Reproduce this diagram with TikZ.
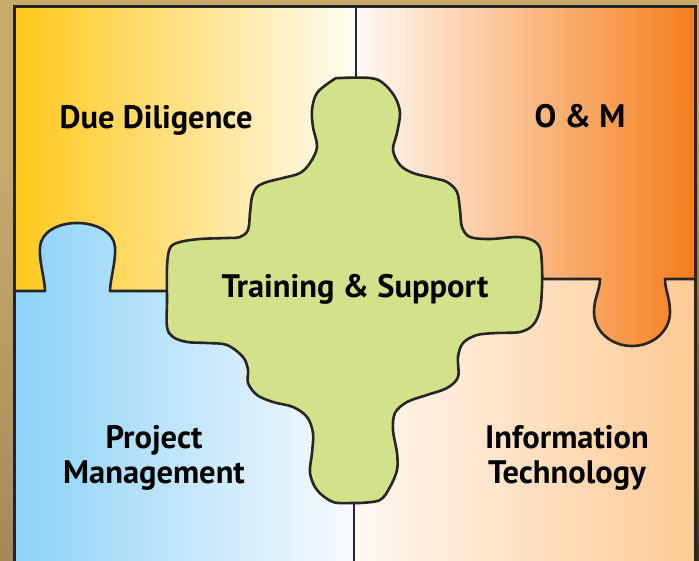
\documentclass[tikz,border=0pt]{standalone}
\usepackage{fontspec}
\setmainfont{PT Sans}
\definecolor{tanbg}{HTML}{C9AB6E}
\definecolor{tandark}{HTML}{A58A58}
\definecolor{edgedark}{HTML}{3A3020}
\definecolor{yellowL}{HTML}{FFC81C}
\definecolor{yellowR}{HTML}{FFFCF4}
\definecolor{orangeL}{HTML}{FFFAF6}
\definecolor{orangeR}{HTML}{F47E1C}
\definecolor{blueL}{HTML}{8BD2F6}
\definecolor{blueR}{HTML}{F8FBFE}
\definecolor{peachL}{HTML}{FFF8F2}
\definecolor{peachR}{HTML}{FDCA95}
\definecolor{greenc}{HTML}{D3E18A}
\definecolor{linec}{HTML}{262626}
\tikzset{
  edgeline/.style={draw=linec, line width=2.6pt, line join=round, line cap=round},
  outerline/.style={draw=linec, line width=3pt, line join=miter},
  lbl/.style={font=\bfseries\fontsize{32.5}{35.5}\selectfont, text=black, align=center, inner sep=0pt},
}
\begin{document}
\begin{tikzpicture}[x=1pt,y=-1pt]
\useasboundingbox (0,0) rectangle (699,561);
\clip (0,0) rectangle (699,561);
% background
\fill[tanbg] (0,0) rectangle (699,561);
\shade[top color=tanbg, bottom color=tandark] (0,150) rectangle (14,561);
\shade[top color=tanbg, bottom color=edgedark] (695,100) rectangle (699,561);
% quadrants
\fill[left color=yellowL, right color=yellowR] (14,7) rectangle (356,291);
\fill[left color=peachL, right color=peachR] (354,279) rectangle (695,561);
\fill[left color=blueL, right color=blueR] (14,291) -- (45,291)
  .. controls (45,280) and (39,262) .. (40,247)
  .. controls (41,232) and (58,223) .. (77,223)
  .. controls (96,223) and (114,232) .. (115,247)
  .. controls (116,262) and (110,280) .. (110,291)
  -- (354,291) -- (354,561) -- (14,561) -- cycle;
\fill[left color=orangeL, right color=orangeR] (356,7) -- (695,7) -- (695,279) -- (665,279)
  .. controls (665,290) and (670,298) .. (670,312)
  .. controls (670,332) and (652,346) .. (632,346)
  .. controls (612,346) and (594,332) .. (594,312)
  .. controls (594,298) and (600,290) .. (600,279)
  -- (356,279) -- cycle;
% divider lines
\draw[edgeline] (14,291) -- (45,291)
  .. controls (45,280) and (39,262) .. (40,247)
  .. controls (41,232) and (58,223) .. (77,223)
  .. controls (96,223) and (114,232) .. (115,247)
  .. controls (116,262) and (110,280) .. (110,291)
  -- (200,291);
\draw[edgeline] (500,279) -- (600,279)
  .. controls (600,290) and (594,298) .. (594,312)
  .. controls (594,332) and (612,346) .. (632,346)
  .. controls (652,346) and (670,332) .. (670,312)
  .. controls (670,298) and (665,290) .. (665,279)
  -- (695,279);
\draw[edgeline] (356,7) -- (356,120);
\draw[edgeline] (354,460) -- (354,561);
% central piece
\draw[edgeline, fill=greenc] plot[smooth cycle, tension=0.55] coordinates {
(333,80) (340,78) (370,78) (383,83) (395,97) (400,113) (397,133) (393,150)
(400,165) (413,173) (433,178) (447,182) (457,192) (460,210) (462,227) (470,237)
(490,239) (517,237) (532,240) (540,248) (542,267) (542,287) (540,310) (533,325)
(520,332) (497,333) (477,335) (463,343) (458,357) (458,377) (447,388) (427,395)
(407,402) (395,413) (393,430) (397,453) (397,470) (390,487) (380,500) (360,503)
(353,503) (333,502) (317,490) (310,473) (312,453) (313,433) (307,417) (293,407)
(273,402) (257,395) (248,383) (248,370) (243,357) (227,345) (207,343) (187,342)
(173,337) (167,327) (167,300) (167,267) (170,248) (180,242) (200,239) (227,238)
(240,237) (248,230) (250,213) (252,197) (257,187) (267,182) (283,178) (300,173)
(310,163) (317,147) (313,127) (312,110) (317,93)};
% outer frame
\draw[outerline] (14,575) -- (14,7) -- (695,7) -- (695,575);
% labels
\node[lbl, anchor=base] (dd) at (156,129) {Due Diligence};
\node[lbl, anchor=base] (om) at (580,128) {O \& M};
\node[lbl, anchor=base] (ts) at (355,298) {Training \& Support};
\node[lbl] (pm) at (154,458) {Project\\Management};
\node[lbl] (it) at (567,458) {Information\\Technology};
\end{tikzpicture}
\end{document}
